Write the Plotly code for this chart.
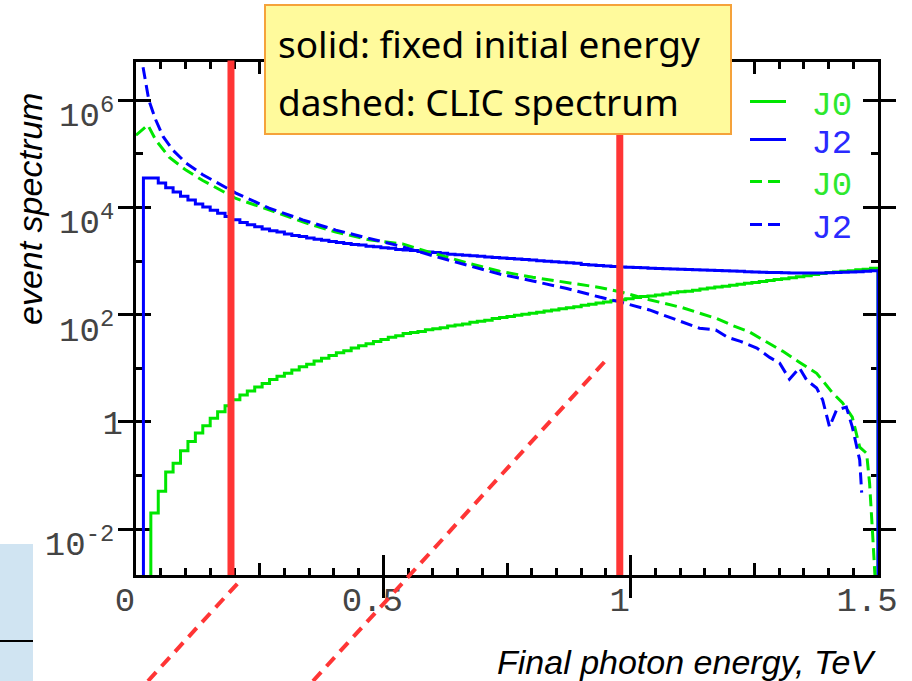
import numpy as np
import plotly.graph_objects as go

# ---------------------------------------------------------------- data
BIN_WIDTH = 0.015  # TeV, 100 bins over 0 - 1.5 TeV
N_BINS = 100

# fixed initial energy, J=0 (events per bin; 0 = empty bin)
j0_fixed = [
    0, 0, 0.020, 0.051, 0.117, 0.17, 0.29, 0.43, 0.62, 0.85,
    1.17, 1.55, 2.0, 2.6, 3.2, 3.8, 4.5, 5.2, 6.2, 7.1,
    8.1, 9.3, 10.7, 12.0, 13.8, 15.5, 17.4, 19.5, 21.4, 24.0,
    26.3, 28.8, 31.6, 34.7, 38.0, 40.7, 44.7, 46.8, 49.0, 52.5,
    55.0, 57.5, 61.7, 64.6, 67.6, 72.4, 75.9, 79.4, 85.1, 89.1,
    93.3, 97.7, 102, 107, 112, 117, 123, 129, 135, 141,
    151, 158, 166, 174, 182, 191, 200, 209, 219, 224,
    234, 245, 257, 269, 275, 288, 302, 316, 331, 339,
    355, 372, 389, 398, 417, 437, 457, 468, 490, 513,
    537, 562, 589, 617, 631, 646, 661, 692, 708, 741,
]

# fixed initial energy, J=2
j2_fixed = [
    0, 35500, 35500, 28800, 23400, 19500, 16200, 13800, 11700, 10200,
    8900, 7800, 6800, 5900, 5250, 4800, 4400, 4000, 3700, 3500,
    3200, 3000, 2900, 2700, 2570, 2450, 2340, 2240, 2140, 2040,
    2000, 1900, 1860, 1780, 1740, 1660, 1620, 1580, 1510, 1480,
    1450, 1410, 1350, 1320, 1290, 1260, 1230, 1200, 1170, 1150,
    1120, 1100, 1070, 1050, 1020, 1000, 977, 955, 933, 912,
    871, 851, 832, 813, 794, 776, 767, 759, 750, 741,
    733, 724, 716, 708, 700, 692, 684, 676, 668, 661,
    653, 646, 638, 631, 624, 617, 617, 610, 603, 603,
    603, 603, 603, 610, 617, 624, 631, 638, 646, 661,
]

# CLIC spectrum, J=0
clic_j0_energy = [
    0.000, 0.024, 0.040, 0.067, 0.101, 0.135, 0.182, 0.202, 0.269, 0.337,
    0.404, 0.471, 0.539, 0.600, 0.669, 0.735, 0.802, 0.871, 0.937, 0.978,
    1.038, 1.105, 1.139, 1.174, 1.206, 1.240, 1.275, 1.307, 1.341, 1.376,
    1.408, 1.428, 1.448, 1.463, 1.477, 1.483, 1.489, 1.496,
]
clic_j0 = [
    2.24e5, 3.47e5, 1.82e5, 8.7e4, 5.0e4, 3.2e4, 1.86e4, 1.48e4, 9.1e3, 5.4e3,
    3.5e3, 2.5e3, 2.1e3, 1.41e3, 933, 650, 500, 398, 324, 269,
    191, 135, 107, 85, 63, 48, 31, 21, 13, 8.1,
    3.5, 2.3, 1.23, 0.34, 0.26, 0.072, 0.0085, 0.0006,
]

# CLIC spectrum, J=2
clic_j2_energy = [
    0.008, 0.026, 0.040, 0.055, 0.075, 0.101, 0.135, 0.182, 0.202, 0.269,
    0.337, 0.404, 0.471, 0.539, 0.600, 0.669, 0.735, 0.802, 0.871, 0.937,
    0.978, 1.038, 1.105, 1.139, 1.172, 1.196, 1.222, 1.255, 1.281, 1.301,
    1.321, 1.341, 1.356, 1.376, 1.388, 1.402, 1.416, 1.436, 1.448, 1.463,
    1.467,
]
clic_j2 = [
    8.9e6, 1.0e6, 4.3e5, 2.1e5, 1.17e5, 6.8e4, 4.1e4, 2.3e4, 1.86e4, 9.8e3,
    5.9e3, 3.8e3, 2.7e3, 1.86e3, 1.26e3, 832, 575, 427, 309, 214,
    174, 123, 74, 56, 52, 38, 32, 24, 16, 12.6,
    6.3, 10.2, 6.0, 4.3, 2.6, 0.81, 1.66, 1.9, 0.81, 0.195,
    0.048,
]

# energies marked with vertical lines (TeV)
marked_energies = [0.192, 0.978]

x_ticks = [0, 0.5, 1, 1.5]
x_tick_text = ["0", "0.5", "1", "1.5"]
x_mid_ticks = [0.25, 0.75, 1.25]
x_small_ticks = [round(0.05 * k, 2) for k in range(31) if k % 5 != 0]
y_ticks = [1e-2, 1, 1e2, 1e4, 1e6]
y_tick_text = ["10<sup>-2</sup>", "", "10<sup>2</sup>", "10<sup>4</sup>", "10<sup>6</sup>"]
y_small_ticks = [1e-1, 10, 1e3, 1e5]

# ---------------------------------------------------------------- style
GREEN = "#00e600"
BLUE = "#0000ff"
RED = "#ff3535"
MONO = "Liberation Mono"
SANS = "Liberation Sans"
TICK_GREY = "#444444"
FLOOR = 1e-4  # empty bins are drawn below the visible range
X_RANGE = [0, 1.5]
Y_RANGE = [-2.855, 6.716]

# plot area in pixels (for converting decoration positions to paper units)
L, R, T, B = 136, 878, 62, 575


def px(x):
    return (x - L) / (R - L)


def py(y):
    return (B - y) / (B - T)


edges = np.arange(N_BINS + 1) * BIN_WIDTH


def step_xy(values):
    v = np.asarray(values, dtype=float)
    v = np.where(v > 0, v, FLOOR)
    return np.append(edges[:-1], edges[-1]), np.append(v, FLOOR)


fig = go.Figure()

NB = "\u00a0"
sx, sy = step_xy(j0_fixed)
fig.add_trace(go.Scatter(x=sx, y=sy, mode="lines", name=NB + "J0", legend="legend",
                         line=dict(color=GREEN, width=3, shape="hv")))
sx, sy = step_xy(j2_fixed)
fig.add_trace(go.Scatter(x=sx, y=sy, mode="lines", name=NB + "J2", legend="legend2",
                         line=dict(color=BLUE, width=3, shape="hv")))
fig.add_trace(go.Scatter(x=clic_j0_energy, y=clic_j0, mode="lines", name=NB + "J0",
                         legend="legend3",
                         line=dict(color=GREEN, width=3, dash="12px,6px")))
fig.add_trace(go.Scatter(x=clic_j2_energy, y=clic_j2, mode="lines", name=NB + "J2",
                         legend="legend4",
                         line=dict(color=BLUE, width=3, dash="12px,6px")))

# empty traces that carry the overlay axes used for the shorter ticks
for xa, ya in [("x2", "y"), ("x3", "y"), ("x", "y2"), ("x", "y3")]:
    fig.add_trace(go.Scatter(x=[None], y=[None], xaxis=xa, yaxis=ya,
                             showlegend=False, hoverinfo="skip"))

frame = dict(showline=True, linecolor="black", linewidth=3,
             ticks="inside", tickcolor="black", tickwidth=3,
             mirror="allticks", showgrid=False, zeroline=False,
             layer="below traces")
tick_font = dict(family=MONO, size=34, color=TICK_GREY)

fig.update_layout(
    width=912, height=681,
    margin=dict(l=L, r=912 - R, t=T, b=681 - B),
    paper_bgcolor="white", plot_bgcolor="white",
    xaxis=dict(range=X_RANGE, tickvals=x_ticks, ticktext=x_tick_text,
               ticklen=20, ticklabelstandoff=-8, ticklabelshift=-11,
               tickfont=tick_font, **frame),
    xaxis2=dict(range=X_RANGE, overlaying="x", anchor="y", side="bottom",
                tickvals=x_mid_ticks, showticklabels=False, ticklen=12,
                **frame),
    xaxis3=dict(range=X_RANGE, overlaying="x", anchor="y", side="bottom",
                tickvals=x_small_ticks, showticklabels=False, ticklen=7,
                **frame),
    yaxis=dict(type="log", range=Y_RANGE, tickvals=y_ticks,
               ticktext=y_tick_text, ticklen=15, ticklabelstandoff=12,
               ticklabelshift=14, tickfont=tick_font, **frame),
    yaxis2=dict(type="log", range=Y_RANGE, overlaying="y", anchor="x",
                side="left", tickvals=[1], ticktext=["1"], ticks="",
                showline=False, showgrid=False, zeroline=False,
                ticklabelstandoff=12, tickfont=tick_font),
    yaxis3=dict(type="log", range=Y_RANGE, overlaying="y", anchor="x",
                side="left", tickvals=y_small_ticks, showticklabels=False,
                ticklen=7, **frame),
    showlegend=True,
)

legend_rows = [102, 140, 182, 225]
legend_colors = ["#2ee82e", "#2a2aff", "#2ee82e", "#2a2aff"]
for i, (row, col) in enumerate(zip(legend_rows, legend_colors)):
    key = "legend" if i == 0 else f"legend{i + 1}"
    fig.update_layout({key: dict(x=px(745), xanchor="left", y=py(row),
                                 yanchor="middle", bgcolor="rgba(0,0,0,0)",
                                 borderwidth=0, itemwidth=36,
                                 font=dict(family=MONO, size=34, color=col))})

# vertical markers
for e in marked_energies:
    fig.add_shape(type="line", xref="x", yref="paper", x0=e, x1=e, y0=0,
                  y1=1.003, line=dict(color=RED, width=7))

# diagonal dashed strokes
fig.add_shape(type="line", xref="paper", yref="paper",
              x0=px(148), y0=py(681), x1=px(238), y1=py(583),
              line=dict(color=RED, width=4, dash="12px,8px"))
fig.add_shape(type="line", xref="paper", yref="paper",
              x0=px(313), y0=py(681), x1=px(608), y1=py(358),
              line=dict(color=RED, width=4, dash="12px,8px"))

# light-blue panel at the lower left
fig.add_shape(type="rect", xref="paper", yref="paper", x0=px(-2), x1=px(33),
              y0=py(683), y1=py(544), fillcolor="#d0e4f2", line_width=0,
              layer="below")
fig.add_shape(type="line", xref="paper", yref="paper", x0=px(-2), x1=px(33),
              y0=py(641), y1=py(641), line=dict(color="black", width=2))

# note box
fig.add_shape(type="rect", xref="paper", yref="paper", x0=px(265), x1=px(731),
              y0=py(134), y1=py(5), fillcolor="#fffa9c",
              line=dict(color="#f5a23a", width=2))
fig.add_annotation(xref="paper", yref="paper", x=px(276), y=py(44),
                   xanchor="left", yanchor="middle", showarrow=False,
                   text="solid: fixed initial energy",
                   font=dict(family="Noto Sans", size=37, color="black"))
fig.add_annotation(xref="paper", yref="paper", x=px(276), y=py(101),
                   xanchor="left", yanchor="middle", showarrow=False,
                   text="dashed: CLIC spectrum",
                   font=dict(family="Noto Sans", size=37, color="black"))

# axis titles
fig.add_annotation(xref="paper", yref="paper", x=px(30), y=py(209),
                   xanchor="center", yanchor="middle", showarrow=False,
                   textangle=-90, text="event spectrum",
                   font=dict(family=SANS, size=34, color="black",
                             style="italic"))
fig.add_annotation(xref="paper", yref="paper", x=px(686), y=py(662),
                   xanchor="center", yanchor="middle", showarrow=False,
                   text="Final photon energy, TeV",
                   font=dict(family=SANS, size=34, color="black",
                             style="italic"))

fig.write_html("out.html")
